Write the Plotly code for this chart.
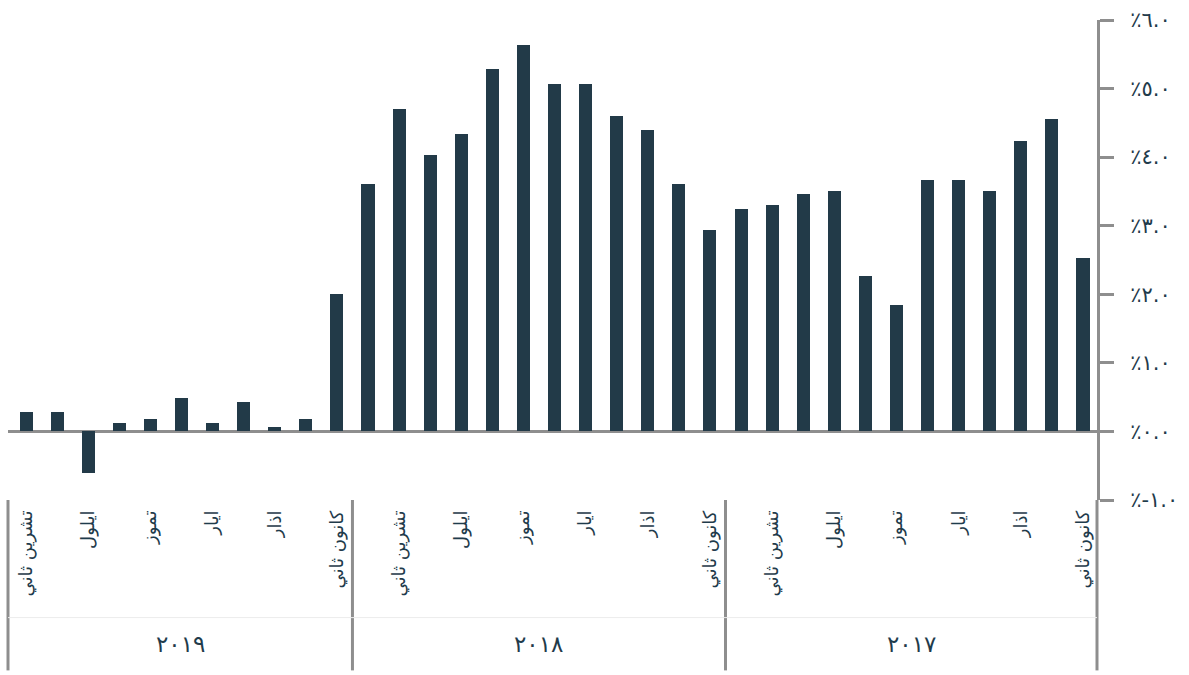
import plotly.graph_objects as go

# Monthly values (%), Jan 2017 .. Nov 2019
years = ["٢٠١٧", "٢٠١٨", "٢٠١٩"]
months = ["كانون ثاني", "شباط", "اذار", "نيسان", "ايار", "حزيران",
          "تموز", "آب", "ايلول", "تشرين اول", "تشرين ثاني", "كانون اول"]
values_2017 = [2.53, 4.55, 4.23, 3.51, 3.66, 3.66, 1.85, 2.27, 3.51, 3.46, 3.30, 3.25]
values_2018 = [2.94, 3.61, 4.39, 4.60, 5.06, 5.06, 5.63, 5.28, 4.34, 4.03, 4.70, 3.61]
values_2019 = [2.00, 0.18, 0.07, 0.43, 0.12, 0.49, 0.18, 0.12, -0.60, 0.28, 0.28]

y_ticks = [-1, 0, 1, 2, 3, 4, 5, 6]
y_tick_text = ["٪-١.٠", "٪٠.٠", "٪١.٠", "٪٢.٠", "٪٣.٠", "٪٤.٠", "٪٥.٠", "٪٦.٠"]

BAR = "#223a48"
TEXT = "#1f3b4b"
GREY = "#8e8e8e"
FONT = "DejaVu Sans"

series = [values_2017, values_2018, values_2019]
yvals = [v for s in series for v in s]
xidx = list(range(len(yvals)))
labels = [months[i % 12] for i in xidx]

# label every other month
tickvals = [i for i in xidx if (i % 12) % 2 == 0]
ticktext = [labels[i] for i in tickvals]

fig = go.Figure(go.Bar(x=xidx, y=yvals, marker_color=BAR, width=0.42,
                       marker_line_width=0))

fig.update_layout(
    width=1189, height=675,
    margin=dict(l=8, r=92, t=15, b=175),
    paper_bgcolor="white", plot_bgcolor="white",
    showlegend=False,
    font=dict(family=FONT, color=TEXT),
    bargap=0,
)

fig.update_xaxes(
    range=[34.58, -0.45],
    tickmode="array", tickvals=tickvals, ticktext=ticktext,
    tickangle=-90, tickfont=dict(size=18, color=TEXT, family=FONT),
    ticklabelstandoff=6,
    showgrid=False, zeroline=False, showline=False, ticks="",
)

fig.update_yaxes(
    range=[-1, 6], side="right",
    tickmode="array", tickvals=y_ticks, ticktext=y_tick_text,
    tickfont=dict(size=21, color=TEXT, family=FONT),
    ticks="outside", ticklen=14, tickwidth=3, tickcolor=GREY,
    ticklabelstandoff=12,
    showline=True, linecolor=GREY, linewidth=3,
    showgrid=False,
    zeroline=True, zerolinecolor=GREY, zerolinewidth=3,
)

bottom = -0.355
shapes = []
# group separators below the plot
for xv, ref in [(0, "paper"), (1, "paper"), (11.5, "x"), (23.5, "x")]:
    shapes.append(dict(type="line", xref=ref, yref="paper", x0=xv, x1=xv,
                       y0=0, y1=bottom, line=dict(color=GREY, width=3)))
shapes.append(dict(type="line", xref="paper", yref="paper", x0=0, x1=1,
                   y0=-0.245, y1=-0.245, line=dict(color="#ececec", width=1)))
fig.update_layout(shapes=shapes)

# year labels centred under each group
group_bounds = [(-0.45, 11.5), (11.5, 23.5), (23.5, 34.58)]
for yr, (a, b) in zip(years, group_bounds):
    fig.add_annotation(x=(a + b) / 2, xref="x", y=-0.30, yref="paper",
                       yanchor="middle", text=yr, showarrow=False,
                       font=dict(size=23, color=TEXT, family=FONT))

fig.write_html("out.html")
